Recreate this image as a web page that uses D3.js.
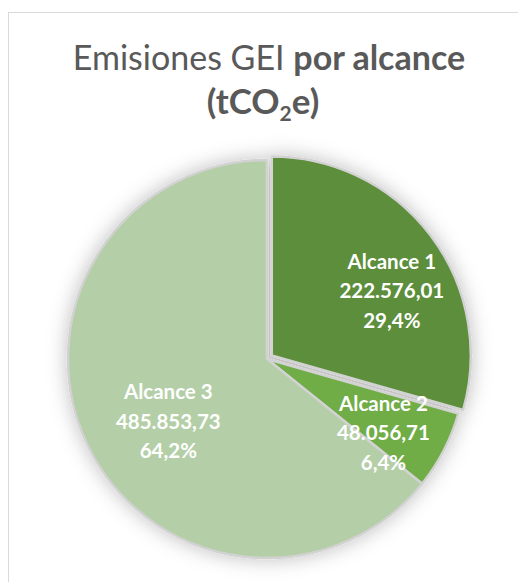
<!DOCTYPE html>
<html>
<head>
<meta charset="utf-8">
<script src="https://cdn.jsdelivr.net/npm/d3@7"></script>
<style>
  body { margin: 0; background: #fff; }
  svg text { font-family: Lato, "Open Sans", sans-serif; }
</style>
</head>
<body>
<div id="graph"></div>
<script>
var categories = ["Alcance 1", "Alcance 2", "Alcance 3"];
var values = [222576.01, 48056.71, 485853.73];
var valueLabels = ["222.576,01", "48.056,71", "485.853,73"];
var percentLabels = ["29,4%", "6,4%", "64,2%"];
var colors = ["#5b8e3a", "#70ad47", "#b4cfa7"];

var width = 518;
var height = 582;
var radius = 199;
var cx = 267, cy = 359;

var svg = d3.select('#graph')
    .append('svg')
    .attr('width', width)
    .attr('height', height);

var defs = svg.append("defs");
var filter = defs.append("filter")
    .attr("id", "shadow")
    .attr("x", "-20%").attr("y", "-20%")
    .attr("width", "140%").attr("height", "140%");
filter.append("feDropShadow")
    .attr("dx", 0).attr("dy", 0)
    .attr("stdDeviation", 10)
    .attr("flood-color", "#000")
    .attr("flood-opacity", 0.26);

// chart frame
svg.append("rect")
    .attr("x", 8.5).attr("y", 12.5)
    .attr("width", 600).attr("height", 700)
    .attr("fill", "none")
    .attr("stroke", "#d9d9d9");

// title
var title = svg.append("text")
    .attr("text-anchor", "middle")
    .attr("fill", "#595959")
    .attr("font-size", 34);
var l1 = title.append("tspan").attr("x", 269).attr("y", 70);
l1.append("tspan").text("Emisiones GEI ");
l1.append("tspan").attr("font-weight", "bold").text("por alcance");
var l2 = svg.append("text")
    .attr("text-anchor", "middle")
    .attr("fill", "#595959")
    .attr("font-size", 35)
    .attr("font-weight", "bold")
    .attr("x", 263).attr("y", 114);
l2.append("tspan").text("(tCO");
l2.append("tspan").attr("font-size", 21).attr("dy", 7).text("2");
l2.append("tspan").attr("dy", -7).text("e)");

var pie = d3.pie().sort(null).value(function(d) { return d; });
var arcs = pie(values);
var arc = d3.arc().innerRadius(0).outerRadius(radius);
var explode = [6, 0, 0];

var g = svg.append("g")
    .attr("transform", "translate(" + cx + "," + cy + ")")
    .attr("filter", "url(#shadow)");

g.selectAll("path")
    .data(arcs)
    .enter()
    .append("path")
    .attr("d", arc)
    .attr("fill", function(d, i) { return colors[i]; })
    .attr("stroke", "#d2d2d2")
    .attr("stroke-width", 2.5)
    .attr("transform", function(d, i) {
        var a = (d.startAngle + d.endAngle) / 2;
        return "translate(" + (Math.sin(a) * explode[i]) + "," + (-Math.cos(a) * explode[i]) + ")";
    });

// data labels (best-fit style: radius and angle tweak per slice)
var labelRadius = [136, 138, 117];
var labelTurn = [0.157, 0.089, -0.12];
var lab = svg.append("g")
    .attr("transform", "translate(" + cx + "," + cy + ")");
arcs.forEach(function(d, i) {
    var a = (d.startAngle + d.endAngle) / 2 + labelTurn[i];
    var x = Math.sin(a) * labelRadius[i] + Math.sin((d.startAngle + d.endAngle) / 2) * explode[i];
    var y = -Math.cos(a) * labelRadius[i] - Math.cos((d.startAngle + d.endAngle) / 2) * explode[i];
    var t = lab.append("text")
        .attr("text-anchor", "middle")
        .attr("fill", "#fff")
        .attr("font-weight", "bold")
        .attr("font-size", 20.5);
    [categories[i], valueLabels[i], percentLabels[i]].forEach(function(s, k) {
        t.append("tspan")
            .attr("x", x)
            .attr("y", y + (k - 1) * 29.5 + 7)
            .text(s);
    });
});
</script>
</body>
</html>
